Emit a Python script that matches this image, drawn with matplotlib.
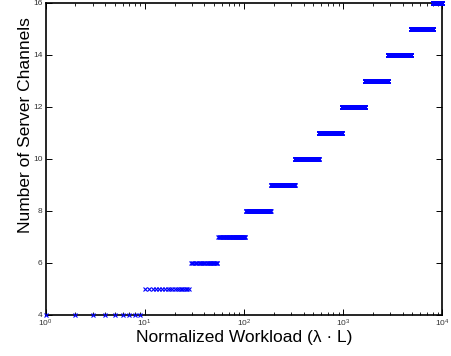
import numpy as np
import matplotlib
matplotlib.use("Agg")
import matplotlib.pyplot as plt
from matplotlib.ticker import LogLocator, FixedLocator

# Step data: number of channels and the workload at which each level starts
channels = [4, 5, 6, 7, 8, 9, 10, 11, 12, 13, 14, 15, 16]
level_start = [1, 10, 29, 55, 104, 187, 326, 568, 969, 1653, 2839, 4802, 8056]
workload_max = 10000

plt.rcParams['font.family'] = ['Liberation Sans', 'DejaVu Sans']

fig = plt.figure(figsize=(4.51, 3.56), dpi=100)
ax = fig.add_axes([0.1009, 0.1152, 0.8798, 0.8764])

ends = level_start[1:] + [workload_max + 1]
for c, s, e in zip(channels, level_start, ends):
    xs = np.arange(s, e)
    ax.plot(xs, np.full(len(xs), c), linestyle='none', marker='x',
            color='#0000ff', markersize=3.2, markeredgewidth=0.8,
            clip_on=False, zorder=3)

ax.set_xscale('log')
ax.set_xlim(1, 1e4)
ax.set_ylim(4, 16)
ax.yaxis.set_major_locator(FixedLocator([4, 6, 8, 10, 12, 14, 16]))
ax.xaxis.set_major_locator(LogLocator(base=10, numticks=10))
ax.xaxis.set_minor_locator(LogLocator(base=10, subs=np.arange(2, 10), numticks=20))

ax.tick_params(which='both', direction='in', top=True, right=True,
               labelsize=6, labelcolor='#333333', pad=2)
ax.tick_params(which='major', length=4, width=0.7)
ax.tick_params(which='minor', length=2, width=0.6)
for sp in ax.spines.values():
    sp.set_linewidth(1.2)

ax.set_xlabel('Normalized Workload (\u03bb \u00b7 L)', fontsize=12.5, labelpad=1)
ax.set_ylabel('Number of Server Channels', fontsize=12.5)
ax.yaxis.set_label_coords(-0.031, 0.609)

fig.savefig('out.png', dpi=100)
